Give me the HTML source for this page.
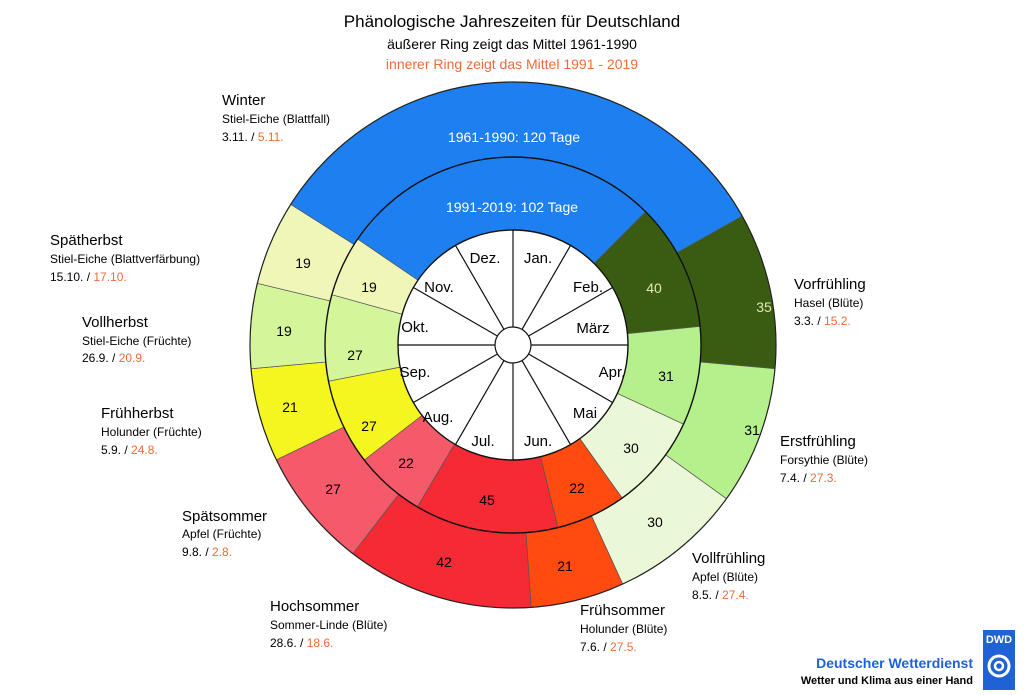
<!DOCTYPE html>
<html><head><meta charset="utf-8">
<style>
html,body{margin:0;padding:0;background:#fff;}
svg{display:block;font-family:"Liberation Sans",sans-serif;}
</style></head>
<body>
<svg id="s" width="1024" height="695" viewBox="0 0 1024 695" xmlns="http://www.w3.org/2000/svg">
<g id="rings"></g>
<g font-size="14" text-anchor="middle" fill="#000">
<text x="512" y="27" font-size="17">Phänologische Jahreszeiten für Deutschland</text>
<text x="512" y="49" font-size="14">äußerer Ring zeigt das Mittel 1961-1990</text>
<text x="512" y="69" font-size="14" fill="#f26a3a">innerer Ring zeigt das Mittel 1991 - 2019</text>
<text x="514" y="142" fill="#fff" font-size="14">1961-1990: 120 Tage</text>
<text x="512" y="212" fill="#fff" font-size="14">1991-2019: 102 Tage</text>
<g font-size="14">
<text x="764" y="312" fill="#dfe9b0">35</text>
<text x="752" y="435">31</text>
<text x="655" y="527">30</text>
<text x="565" y="571">21</text>
<text x="444" y="567">42</text>
<text x="333" y="494">27</text>
<text x="290" y="412">21</text>
<text x="284" y="336">19</text>
<text x="303" y="268">19</text>
<text x="654" y="293" fill="#dfe9b0">40</text>
<text x="666" y="381">31</text>
<text x="631" y="453">30</text>
<text x="577" y="493">22</text>
<text x="487" y="505">45</text>
<text x="406" y="468">22</text>
<text x="369" y="431">27</text>
<text x="355" y="360">27</text>
<text x="369" y="292">19</text>
</g>
<g font-size="15">
<text x="485" y="263">Dez.</text>
<text x="538" y="263">Jan.</text>
<text x="588" y="292">Feb.</text>
<text x="593" y="333">März</text>
<text x="612" y="377">Apr.</text>
<text x="585" y="418">Mai</text>
<text x="538" y="446">Jun.</text>
<text x="483" y="446">Jul.</text>
<text x="438" y="422">Aug.</text>
<text x="415" y="377">Sep.</text>
<text x="415" y="332">Okt.</text>
<text x="439" y="292">Nov.</text>
</g>
</g>
<g font-size="12" fill="#000">
<g transform="translate(222,0)"><text y="105" font-size="15">Winter</text><text y="123">Stiel-Eiche (Blattfall)</text><text y="141">3.11. / <tspan fill="#f26a3a">5.11.</tspan></text></g>
<g transform="translate(50,0)"><text y="245" font-size="15">Spätherbst</text><text y="263">Stiel-Eiche (Blattverfärbung)</text><text y="281">15.10. / <tspan fill="#f26a3a">17.10.</tspan></text></g>
<g transform="translate(82,0)"><text y="327" font-size="15">Vollherbst</text><text y="345">Stiel-Eiche (Früchte)</text><text y="362">26.9. / <tspan fill="#f26a3a">20.9.</tspan></text></g>
<g transform="translate(101,0)"><text y="418" font-size="15">Frühherbst</text><text y="436">Holunder (Früchte)</text><text y="454">5.9. / <tspan fill="#f26a3a">24.8.</tspan></text></g>
<g transform="translate(182,0)"><text y="521" font-size="15">Spätsommer</text><text y="538">Apfel (Früchte)</text><text y="556">9.8. / <tspan fill="#f26a3a">2.8.</tspan></text></g>
<g transform="translate(270,0)"><text y="611" font-size="15">Hochsommer</text><text y="629">Sommer-Linde (Blüte)</text><text y="647">28.6. / <tspan fill="#f26a3a">18.6.</tspan></text></g>
<g transform="translate(580,0)"><text y="615" font-size="15">Frühsommer</text><text y="633">Holunder (Blüte)</text><text y="651">7.6. / <tspan fill="#f26a3a">27.5.</tspan></text></g>
<g transform="translate(692,0)"><text y="563" font-size="15">Vollfrühling</text><text y="581">Apfel (Blüte)</text><text y="599">8.5. / <tspan fill="#f26a3a">27.4.</tspan></text></g>
<g transform="translate(780,0)"><text y="446" font-size="15">Erstfrühling</text><text y="464">Forsythie (Blüte)</text><text y="482">7.4. / <tspan fill="#f26a3a">27.3.</tspan></text></g>
<g transform="translate(794,0)"><text y="289" font-size="15">Vorfrühling</text><text y="307">Hasel (Blüte)</text><text y="325">3.3. / <tspan fill="#f26a3a">15.2.</tspan></text></g>
</g>
<g font-weight="bold" text-anchor="end">
<text x="973" y="668" font-size="14" fill="#1f62d6">Deutscher Wetterdienst</text>
<text x="973" y="684" font-size="11" fill="#000">Wetter und Klima aus einer Hand</text>
</g>
<rect x="983" y="630" width="32" height="60" fill="#1f62d6"/>
<text x="999" y="643" font-size="11" font-weight="bold" fill="#fff" text-anchor="middle">DWD</text>
<circle cx="999" cy="666" r="10" fill="none" stroke="#fff" stroke-width="3"/>
<circle cx="999" cy="666" r="4" fill="none" stroke="#fff" stroke-width="2.5"/>
</svg>
<script>
(function(){
var cx=513,cy=345,R1=263,R2=188,R3=115,R4=18;
var cols=["#1e7ff0","#3a5c12","#b5f08c","#eaf8d8","#ff4a10","#f52a35","#f55a6a","#f5f520","#d5f59a","#f0f5b8"];
var outer=[307,62,97,128,158,179,221,248,269,288];
var inner=[309,46,86,117,147,169,214,236,263,290];
function ang(d){return (d-0.5)/365*2*Math.PI;}
function pt(a,r){return [cx+r*Math.sin(a),cy-r*Math.cos(a)];}
function seg(a0,a1,ro,ri){
 if(a1<a0)a1+=2*Math.PI;
 var lg=(a1-a0)>Math.PI?1:0;
 var p1=pt(a0,ro),p2=pt(a1,ro),p3=pt(a1,ri),p4=pt(a0,ri);
 return "M"+p1+"A"+ro+","+ro+" 0 "+lg+" 1 "+p2+"L"+p3+"A"+ri+","+ri+" 0 "+lg+" 0 "+p4+"Z";
}
var g=document.getElementById("rings"),h="";
function ring(arr,ro,ri){
 for(var i=0;i<arr.length;i++){
  var a0=ang(arr[i]),a1=ang(arr[(i+1)%arr.length]);
  h+='<path d="'+seg(a0,a1,ro,ri)+'" fill="'+cols[i]+'" stroke="#555" stroke-width="0.7"/>';
 }
}
ring(outer,R1,R2);ring(inner,R2,R3);
h+='<circle cx="'+cx+'" cy="'+cy+'" r="'+R1+'" fill="none" stroke="#222" stroke-width="1.2"/>';
h+='<circle cx="'+cx+'" cy="'+cy+'" r="'+R2+'" fill="none" stroke="#111" stroke-width="1.4"/>';
h+='<circle cx="'+cx+'" cy="'+cy+'" r="'+R3+'" fill="#fff" stroke="#111" stroke-width="1.4"/>';
for(var k=0;k<12;k++){var a=k*Math.PI/6;var p=pt(a,R3),q=pt(a,R4);h+='<line x1="'+q[0]+'" y1="'+q[1]+'" x2="'+p[0]+'" y2="'+p[1]+'" stroke="#111" stroke-width="1.2"/>';}
h+='<circle cx="'+cx+'" cy="'+cy+'" r="'+R4+'" fill="#fff" stroke="#111" stroke-width="1.2"/>';
g.innerHTML=h;
})();
</script>
</body></html>
